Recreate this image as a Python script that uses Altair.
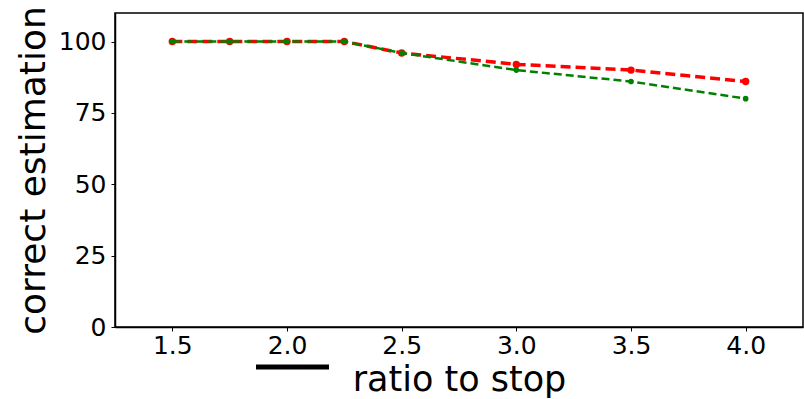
import altair as alt
import pandas as pd

ratio = [1.5, 1.75, 2.0, 2.25, 2.5, 3.0, 3.5, 4.0]
red_vals = [100, 100, 100, 100, 96, 92, 90, 86]
green_vals = [100, 100, 100, 100, 96, 90, 86, 80]
x_ticks = [1.5, 2.0, 2.5, 3.0, 3.5, 4.0]
y_ticks = [0, 25, 50, 75, 100]

df_red = pd.DataFrame({"ratio": ratio, "value": red_vals})
df_green = pd.DataFrame({"ratio": ratio, "value": green_vals})

FONT = "DejaVu Sans"

x_enc = alt.X(
    "ratio:Q",
    scale=alt.Scale(domain=[1.25, 4.25], nice=False, zero=False),
    axis=alt.Axis(values=x_ticks, format=".1f", title="ratio to stop",
                  titleFontSize=35, titlePadding=4, labelPadding=2),
)
y_enc = alt.Y(
    "value:Q",
    scale=alt.Scale(domain=[0, 110], nice=False),
    axis=alt.Axis(values=y_ticks, title="correct estimation",
                  titleFontSize=36, titlePadding=6, labelPadding=5),
)

red_line = alt.Chart(df_red).mark_line(
    color="#ff0000", strokeWidth=3.5, strokeDash=[10, 5]
).encode(x=x_enc, y=y_enc)
red_pts = alt.Chart(df_red).mark_circle(color="#ff0000", size=55, opacity=1).encode(x=x_enc, y=y_enc)
green_line = alt.Chart(df_green).mark_line(
    color="#008000", strokeWidth=2.5, strokeDash=[8, 4]
).encode(x=x_enc, y=y_enc)
green_pts = alt.Chart(df_green).mark_circle(color="#008000", size=32, opacity=1).encode(x=x_enc, y=y_enc)

bar = alt.Chart(pd.DataFrame({"a": [0]})).mark_rule(
    color="black", strokeWidth=5
).encode(x=alt.value(141), x2=alt.value(214), y=alt.value(354))

chart = alt.layer(red_line, red_pts, green_line, green_pts, bar).properties(
    width=688,
    height=314,
    autosize=alt.AutoSizeParams(type="none"),
    padding={"left": 115, "top": 13, "right": 1, "bottom": 72},
).configure_view(
    stroke="black", strokeWidth=1.5
).configure_axis(
    grid=False,
    domainColor="black",
    domainWidth=1.5,
    tickColor="black",
    tickSize=4,
    labelFont=FONT,
    labelFontSize=25,
    labelColor="black",
    titleFont=FONT,
    titleFontWeight="normal",
    titleColor="black",
)

chart.save("out.html", embed_options={"renderer": "svg", "actions": False})
